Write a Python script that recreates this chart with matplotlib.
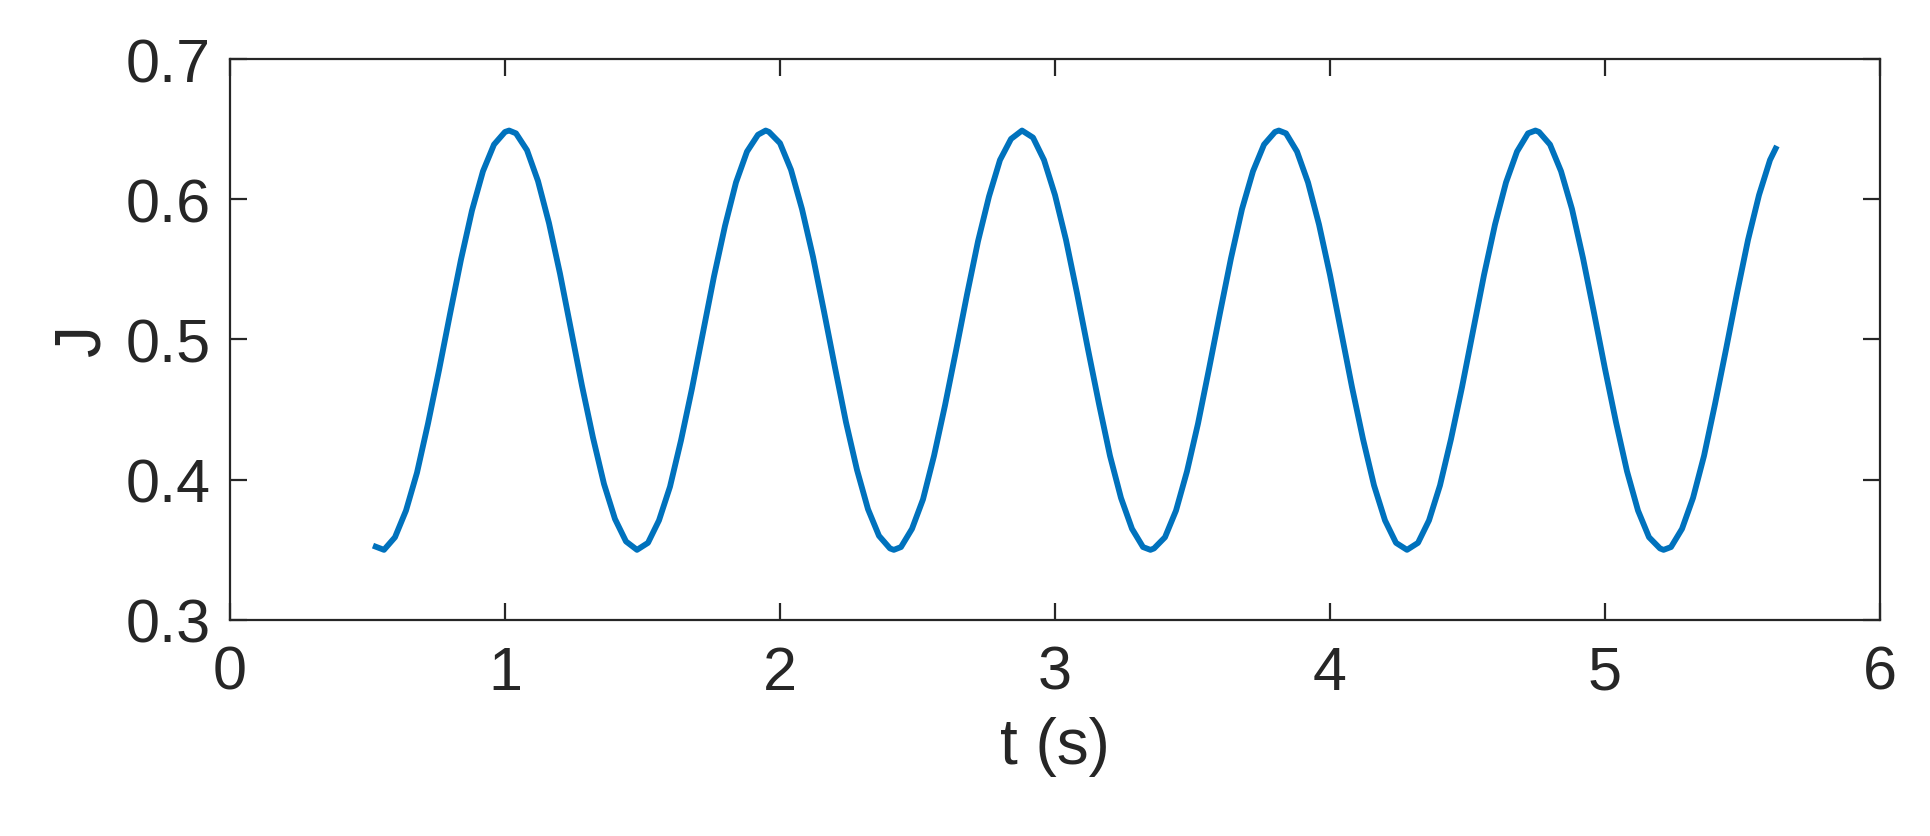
import matplotlib
matplotlib.use("Agg")
import matplotlib.pyplot as plt

# ── Data (t in s, J dimensionless) ─────────────────────────────────────────────
t = [0.52, 0.56, 0.60, 0.64, 0.68, 0.72, 0.76, 0.80, 0.84, 0.88,
     0.92, 0.96, 1.00, 1.015, 1.04, 1.08, 1.12, 1.16, 1.20, 1.24, 1.28,
     1.32, 1.36, 1.40, 1.44, 1.48, 1.52, 1.56, 1.60, 1.64, 1.68,
     1.72, 1.76, 1.80, 1.84, 1.88, 1.92, 1.948, 1.96, 2.00, 2.04, 2.08,
     2.12, 2.16, 2.20, 2.24, 2.28, 2.32, 2.36, 2.40, 2.414, 2.44, 2.48,
     2.52, 2.56, 2.60, 2.64, 2.68, 2.72, 2.76, 2.80, 2.84, 2.88,
     2.92, 2.96, 3.00, 3.04, 3.08, 3.12, 3.16, 3.20, 3.24, 3.28,
     3.32, 3.347, 3.36, 3.40, 3.44, 3.48, 3.52, 3.56, 3.60, 3.64, 3.68,
     3.72, 3.76, 3.80, 3.814, 3.84, 3.88, 3.92, 3.96, 4.00, 4.04, 4.08,
     4.12, 4.16, 4.20, 4.24, 4.28, 4.32, 4.36, 4.40, 4.44, 4.48,
     4.52, 4.56, 4.60, 4.64, 4.68, 4.72, 4.747, 4.76, 4.80, 4.84, 4.88,
     4.92, 4.96, 5.00, 5.04, 5.08, 5.12, 5.16, 5.20, 5.213, 5.24, 5.28,
     5.32, 5.36, 5.40, 5.44, 5.48, 5.52, 5.56, 5.60, 5.625]

J = [0.353, 0.350, 0.359, 0.378, 0.405, 0.440, 0.478, 0.518, 0.557, 0.592,
     0.620, 0.639, 0.648, 0.649, 0.647, 0.635, 0.613, 0.583, 0.547, 0.507, 0.467,
     0.430, 0.397, 0.372, 0.356, 0.350, 0.355, 0.371, 0.395, 0.428, 0.465,
     0.505, 0.545, 0.581, 0.612, 0.634, 0.646, 0.649, 0.648, 0.640, 0.621, 0.593,
     0.559, 0.520, 0.480, 0.441, 0.407, 0.379, 0.360, 0.351, 0.350, 0.352, 0.365,
     0.386, 0.417, 0.453, 0.492, 0.532, 0.570, 0.602, 0.628, 0.643, 0.649,
     0.644, 0.628, 0.603, 0.571, 0.533, 0.493, 0.454, 0.417, 0.387, 0.365,
     0.352, 0.350, 0.351, 0.359, 0.378, 0.406, 0.440, 0.479, 0.519, 0.558, 0.593,
     0.620, 0.639, 0.648, 0.649, 0.647, 0.634, 0.612, 0.582, 0.546, 0.506, 0.466,
     0.429, 0.396, 0.371, 0.355, 0.350, 0.355, 0.371, 0.396, 0.429, 0.466,
     0.506, 0.546, 0.582, 0.612, 0.634, 0.647, 0.649, 0.648, 0.639, 0.620, 0.593,
     0.558, 0.519, 0.479, 0.441, 0.406, 0.378, 0.359, 0.351, 0.350, 0.352, 0.365,
     0.387, 0.417, 0.454, 0.493, 0.533, 0.571, 0.603, 0.628, 0.638]

x_ticks = [0, 1, 2, 3, 4, 5, 6]
y_ticks = [0.3, 0.4, 0.5, 0.6, 0.7]

# ── Style (MATLAB-ish) ─────────────────────────────────────────────────────────
plt.rcParams["font.family"] = ["Liberation Sans", "DejaVu Sans"]
text_col = "#262626"

fig = plt.figure(figsize=(19.31, 8.37), dpi=100)
ax = fig.add_axes([0.1191, 0.2581, 0.8545, 0.6702])

ax.plot(t, J, color="#0072BD", lw=4.2, solid_joinstyle="round",
        solid_capstyle="butt")

ax.set_xlim(0, 6)
ax.set_ylim(0.3, 0.7)
ax.set_xticks(x_ticks)
ax.set_yticks(y_ticks)
ax.set_xticklabels([str(v) for v in x_ticks])
ax.set_yticklabels([f"{v:.1f}" for v in y_ticks])

ax.tick_params(direction="in", top=True, right=True, length=12, width=1.6,
               color=text_col, labelcolor=text_col, labelsize=44)
ax.tick_params(axis="x", pad=18)
ax.tick_params(axis="y", pad=14)
for s in ax.spines.values():
    s.set_linewidth(1.6)
    s.set_color(text_col)

ax.set_xlabel("t (s)", fontsize=46, color=text_col, labelpad=10)
ax.set_ylabel("J", fontsize=46, color=text_col, labelpad=9)

fig.savefig("out.png", dpi=100, facecolor="white")
